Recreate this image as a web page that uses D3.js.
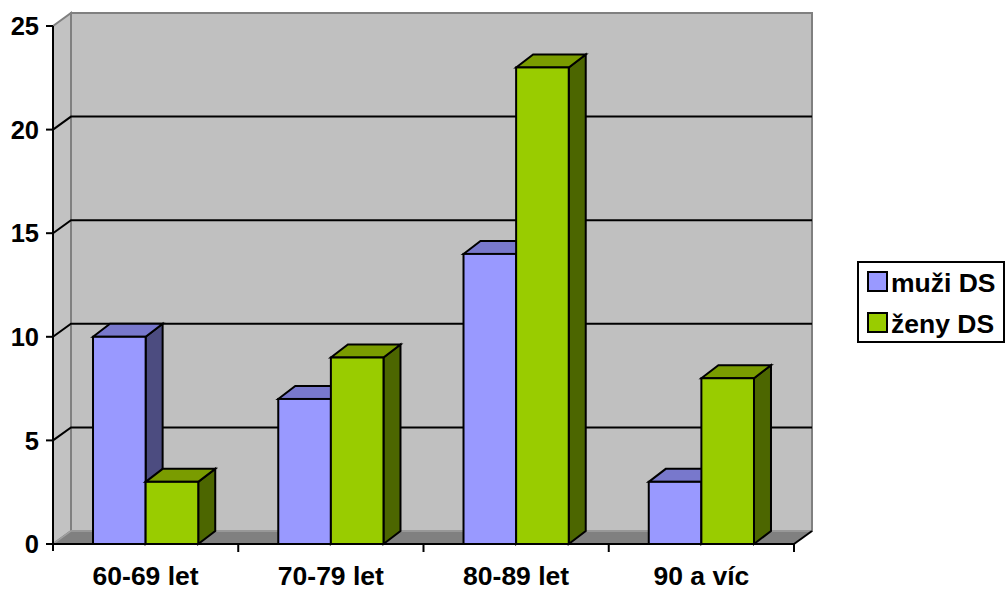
<!DOCTYPE html>
<html>
<head>
<meta charset="utf-8">
<script src="https://cdn.jsdelivr.net/npm/d3@7"></script>
<style>
  html, body { margin: 0; padding: 0; background: #fff; }
  svg { display: block; }
  svg text { font-family: Arial, "Liberation Sans", Helvetica, sans-serif; font-weight: 700; fill: #000; }
</style>
</head>
<body>
<svg id="chart" width="1006" height="589"></svg>
<script>
// Age groups and counts per group
const categories = ["60-69 let", "70-79 let", "80-89 let", "90 a víc"];
const seriesNames = ["muži DS", "ženy DS"];
const muzi = [10, 7, 14, 3];
const zeny = [3, 9, 23, 8];
const yTicks = [0, 5, 10, 15, 20, 25];

const series = [
  { name: seriesNames[0], values: muzi, front: "#9999FF", topFill: "#7878CC", side: "#4C4C80" },
  { name: seriesNames[1], values: zeny, front: "#99CC00", topFill: "#7A9C00", side: "#4C6600" }
];

const svg = d3.select("#chart");

// Front plane of the plot and the 3D depth offset of walls and bars
const plotLeft = 53, plotRight = 794, plotTop = 26, plotBottom = 544;
const depthX = 18, depthY = -13;
const barDX = 17, barDY = -13;

const y = d3.scaleLinear().domain([0, 25]).range([plotBottom, plotTop]);
const x = d3.scaleBand().domain(categories).range([plotLeft, plotRight]).padding(0);
const gap = x.bandwidth() * 0.216;
const xs = d3.scaleBand().domain(seriesNames).range([gap, x.bandwidth() - gap]).padding(0);

const line = d3.line();

// Back wall
svg.append("path")
  .attr("d", line([[plotLeft + depthX, y(25) + depthY], [plotRight + depthX, y(25) + depthY],
                   [plotRight + depthX, y(0) + depthY], [plotLeft + depthX, y(0) + depthY]]) + "Z")
  .attr("fill", "#C0C0C0").attr("stroke", "#808080").attr("stroke-width", 2);

// Side wall
svg.append("path")
  .attr("d", line([[plotLeft, y(25)], [plotLeft + depthX, y(25) + depthY],
                   [plotLeft + depthX, y(0) + depthY], [plotLeft, y(0)]]) + "Z")
  .attr("fill", "#C2C2C2").attr("stroke", "#808080").attr("stroke-width", 2);

// Gridlines across side wall and back wall
const grid = svg.append("g");
yTicks.filter(t => t > 0 && t < 25).forEach(t => {
  grid.append("path")
    .attr("d", line([[plotLeft, y(t)], [plotLeft + depthX, y(t) + depthY], [plotRight + depthX, y(t) + depthY]]))
    .attr("fill", "none").attr("stroke", "#000").attr("stroke-width", 2);
});

// Floor
svg.append("path")
  .attr("d", line([[plotLeft, y(0)], [plotLeft + depthX, y(0) + depthY],
                   [plotRight + depthX, y(0) + depthY], [plotRight, y(0)]]) + "Z")
  .attr("fill", "#808080").attr("stroke", "none");
svg.append("path")
  .attr("d", line([[plotLeft, y(0)], [plotLeft + depthX, y(0) + depthY], [plotRight + depthX, y(0) + depthY]]))
  .attr("fill", "none").attr("stroke", "#A0A0A0").attr("stroke-width", 1.5);
svg.append("path")
  .attr("d", line([[plotRight, y(0)], [plotRight + depthX, y(0) + depthY]]))
  .attr("fill", "none").attr("stroke", "#000").attr("stroke-width", 2);

// Bars, drawn as boxes (side, top, front)
const bars = svg.append("g");
categories.forEach((c, i) => {
  series.forEach(s => {
    const v = s.values[i];
    const x0 = x(c) + xs(s.name), x1 = x0 + xs.bandwidth();
    const y0 = y(0), y1 = y(v);
    const g = bars.append("g").attr("stroke", "#000").attr("stroke-width", 2).attr("stroke-linejoin", "miter");
    g.append("path")
      .attr("d", line([[x1, y0], [x1 + barDX, y0 + barDY], [x1 + barDX, y1 + barDY], [x1, y1]]) + "Z")
      .attr("fill", s.side);
    g.append("path")
      .attr("d", line([[x0, y1], [x0 + barDX, y1 + barDY], [x1 + barDX, y1 + barDY], [x1, y1]]) + "Z")
      .attr("fill", s.topFill);
    g.append("rect")
      .attr("x", x0).attr("y", y1).attr("width", x1 - x0).attr("height", y0 - y1)
      .attr("fill", s.front);
  });
});

// Value axis
const yAxis = svg.append("g");
yAxis.append("line").attr("x1", plotLeft).attr("x2", plotLeft).attr("y1", y(25)).attr("y2", y(0) + 7)
  .attr("stroke", "#000").attr("stroke-width", 2);
yTicks.forEach(t => {
  yAxis.append("line").attr("x1", plotLeft - 7).attr("x2", plotLeft).attr("y1", y(t)).attr("y2", y(t))
    .attr("stroke", "#000").attr("stroke-width", 2);
  yAxis.append("text").attr("x", 39).attr("y", y(t)).attr("dy", "0.36em")
    .attr("text-anchor", "end").attr("font-size", 25.5).attr("font-weight", 700).text(t);
});

// Category axis
const xAxis = svg.append("g");
xAxis.append("line").attr("x1", plotLeft).attr("x2", plotRight).attr("y1", y(0)).attr("y2", y(0))
  .attr("stroke", "#000").attr("stroke-width", 2);
categories.forEach(c => {
  const xe = x(c) + x.bandwidth();
  xAxis.append("line").attr("x1", xe).attr("x2", xe).attr("y1", y(0)).attr("y2", y(0) + 8)
    .attr("stroke", "#000").attr("stroke-width", 2);
  xAxis.append("text").attr("x", x(c) + x.bandwidth() / 2).attr("y", 584.5)
    .attr("text-anchor", "middle").attr("font-size", 26.5).attr("font-weight", 700).text(c);
});

// Legend
const legend = svg.append("g");
legend.append("rect").attr("x", 858).attr("y", 262).attr("width", 146).attr("height", 80)
  .attr("fill", "#fff").attr("stroke", "#000").attr("stroke-width", 2);
series.forEach((s, i) => {
  const ly = 272 + i * 41;
  legend.append("rect").attr("x", 868).attr("y", ly).attr("width", 19).attr("height", 19)
    .attr("fill", s.front).attr("stroke", "#000").attr("stroke-width", 2);
  legend.append("text").attr("x", 891).attr("y", ly + 19.5).attr("font-size", 26.5)
    .attr("font-weight", 700).text(s.name);
});
</script>
</body>
</html>
